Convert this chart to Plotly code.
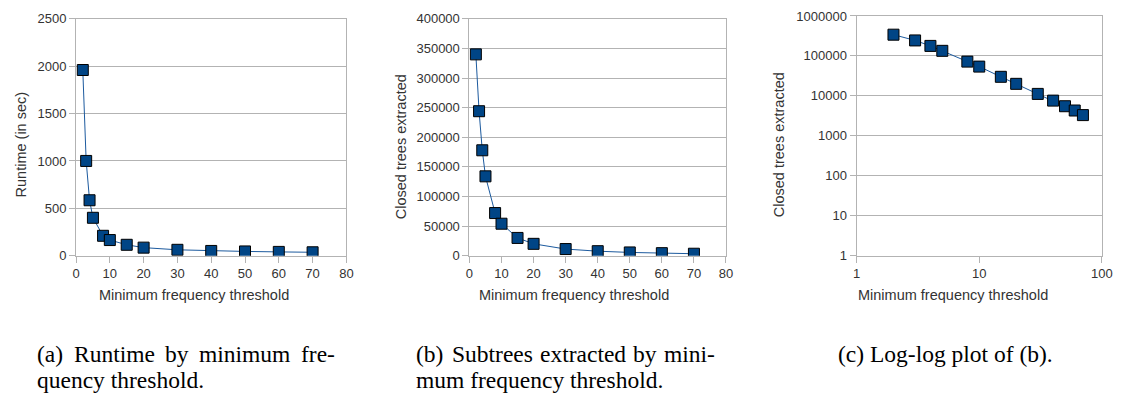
import plotly.graph_objects as go

# ---------------- data ----------------
thresholds = [2, 3, 4, 5, 8, 10, 15, 20, 30, 40, 50, 60, 70]
runtime_sec = [1960, 1000, 585, 400, 210, 165, 115, 85, 62, 50, 45, 40, 36]
closed_trees = [340000, 244000, 178000, 134000, 72000, 54000, 30000, 20000,
                11200, 7600, 5500, 4300, 3300]

lin_x_ticks = [0, 10, 20, 30, 40, 50, 60, 70, 80]
runtime_ticks = [0, 500, 1000, 1500, 2000, 2500]
trees_ticks = [0, 50000, 100000, 150000, 200000, 250000, 300000, 350000, 400000]
log_x_ticks = [1, 10, 100]
log_y_ticks = [1, 10, 100, 1000, 10000, 100000, 1000000]

x_title = "Minimum frequency threshold"
y_titles = ["Runtime (in sec)", "Closed trees extracted", "Closed trees extracted"]

# ---------------- layout helpers ----------------
W, H = 1131, 403


def px(x):
    return x / W


def py(y):
    return 1 - y / H


MARK = "#004586"
LINE = "#1c5a9e"
GRID = "#b3b3b3"
TXT = "#333333"
SANS = "Liberation Sans"
SERIF = "Liberation Serif"

fig = go.Figure()


def add_series(xs, ys, xa, ya):
    fig.add_trace(go.Scatter(
        x=xs, y=ys, xaxis=xa, yaxis=ya, mode="lines+markers",
        line=dict(color=LINE, width=1),
        marker=dict(symbol="square", size=11, color=MARK,
                    line=dict(color="#000000", width=1)),
        showlegend=False, hoverinfo="x+y"))


add_series(thresholds, runtime_sec, "x", "y")
add_series(thresholds, closed_trees, "x2", "y2")
add_series(thresholds, closed_trees, "x3", "y3")

axis_common = dict(
    showline=True, linecolor=GRID, linewidth=1, mirror=True,
    ticks="outside", ticklen=6, tickcolor=GRID, tickwidth=1,
    tickfont=dict(family=SANS, size=13, color=TXT),
    zeroline=False, fixedrange=True,
)

fig.update_layout(
    width=W, height=H,
    margin=dict(l=0, r=0, t=0, b=0),
    paper_bgcolor="white", plot_bgcolor="white",
    xaxis=dict(domain=[px(73), px(347)], range=[0, 80], anchor="y",
               tickmode="array", tickvals=lin_x_ticks,
               ticktext=[str(v) for v in lin_x_ticks], showgrid=False,
               **axis_common),
    yaxis=dict(domain=[py(258.3), py(12.3)], range=[0, 2500], anchor="x",
               tickmode="array", tickvals=runtime_ticks,
               ticktext=[str(v) for v in runtime_ticks],
               showgrid=True, gridcolor=GRID, gridwidth=1, **axis_common),
    xaxis2=dict(domain=[px(471.7), px(731.7)], range=[0, 80], anchor="y2",
                tickmode="array", tickvals=lin_x_ticks,
                ticktext=[str(v) for v in lin_x_ticks], showgrid=False,
                **axis_common),
    yaxis2=dict(domain=[py(258.3), py(12.3)], range=[0, 400000], anchor="x2",
                tickmode="array", tickvals=trees_ticks,
                ticktext=[str(v) for v in trees_ticks],
                showgrid=True, gridcolor=GRID, gridwidth=1, **axis_common),
    xaxis3=dict(domain=[px(864), px(1112.7)], type="log", range=[0, 2],
                anchor="y3", tickmode="array", tickvals=log_x_ticks,
                ticktext=[str(v) for v in log_x_ticks], showgrid=False,
                **axis_common),
    yaxis3=dict(domain=[py(258.3), py(9.3)], type="log", range=[0, 6],
                anchor="x3", tickmode="array", tickvals=log_y_ticks,
                ticktext=[str(v) for v in log_y_ticks],
                showgrid=True, gridcolor=GRID, gridwidth=1, **axis_common),
)

annotations = []

# axis titles
for cx in (193, 578, 962):
    annotations.append(dict(
        text=x_title, x=px(cx), y=py(299), xref="paper", yref="paper",
        xanchor="center", yanchor="middle", showarrow=False,
        font=dict(family=SANS, size=14.5, color=TXT)))

for (cx, cy), t in zip([(17, 143), (402, 145), (785, 143)], y_titles):
    annotations.append(dict(
        text=t, x=px(cx), y=py(cy), xref="paper", yref="paper",
        xanchor="center", yanchor="middle", textangle=-90, showarrow=False,
        font=dict(family=SANS, size=14.5, color=TXT)))

# captions (justified first lines -> words placed individually)
cap_font = dict(family=SERIF, size=23.5, color="#000000")
line1_y, line2_y = 360.5, 387.5


def cap(text, x, y):
    annotations.append(dict(text=text, x=px(x), y=py(y), xref="paper",
                            yref="paper", xanchor="left", yanchor="middle",
                            showarrow=False, font=cap_font))


for word, wx in zip(["(a)", "Runtime", "by", "minimum", "fre-"],
                    [31, 68.6, 161.1, 196.1, 299.0]):
    cap(word, wx, line1_y)
cap("quency threshold.", 31, line2_y)

for word, wx in zip(["(b)", "Subtrees", "extracted", "by", "mini-"],
                    [416, 451.7, 540.9, 635.3, 667.1]):
    cap(word, wx, line1_y)
cap("mum frequency threshold.", 416, line2_y)

cap("(c) Log-log plot of (b).", 843, line1_y)

fig.update_layout(annotations=annotations)

fig.write_html(
    "out.html",
    config={"displayModeBar": False},
    post_script="document.body.style.margin='0';"
                "document.body.style.overflow='hidden';",
)
